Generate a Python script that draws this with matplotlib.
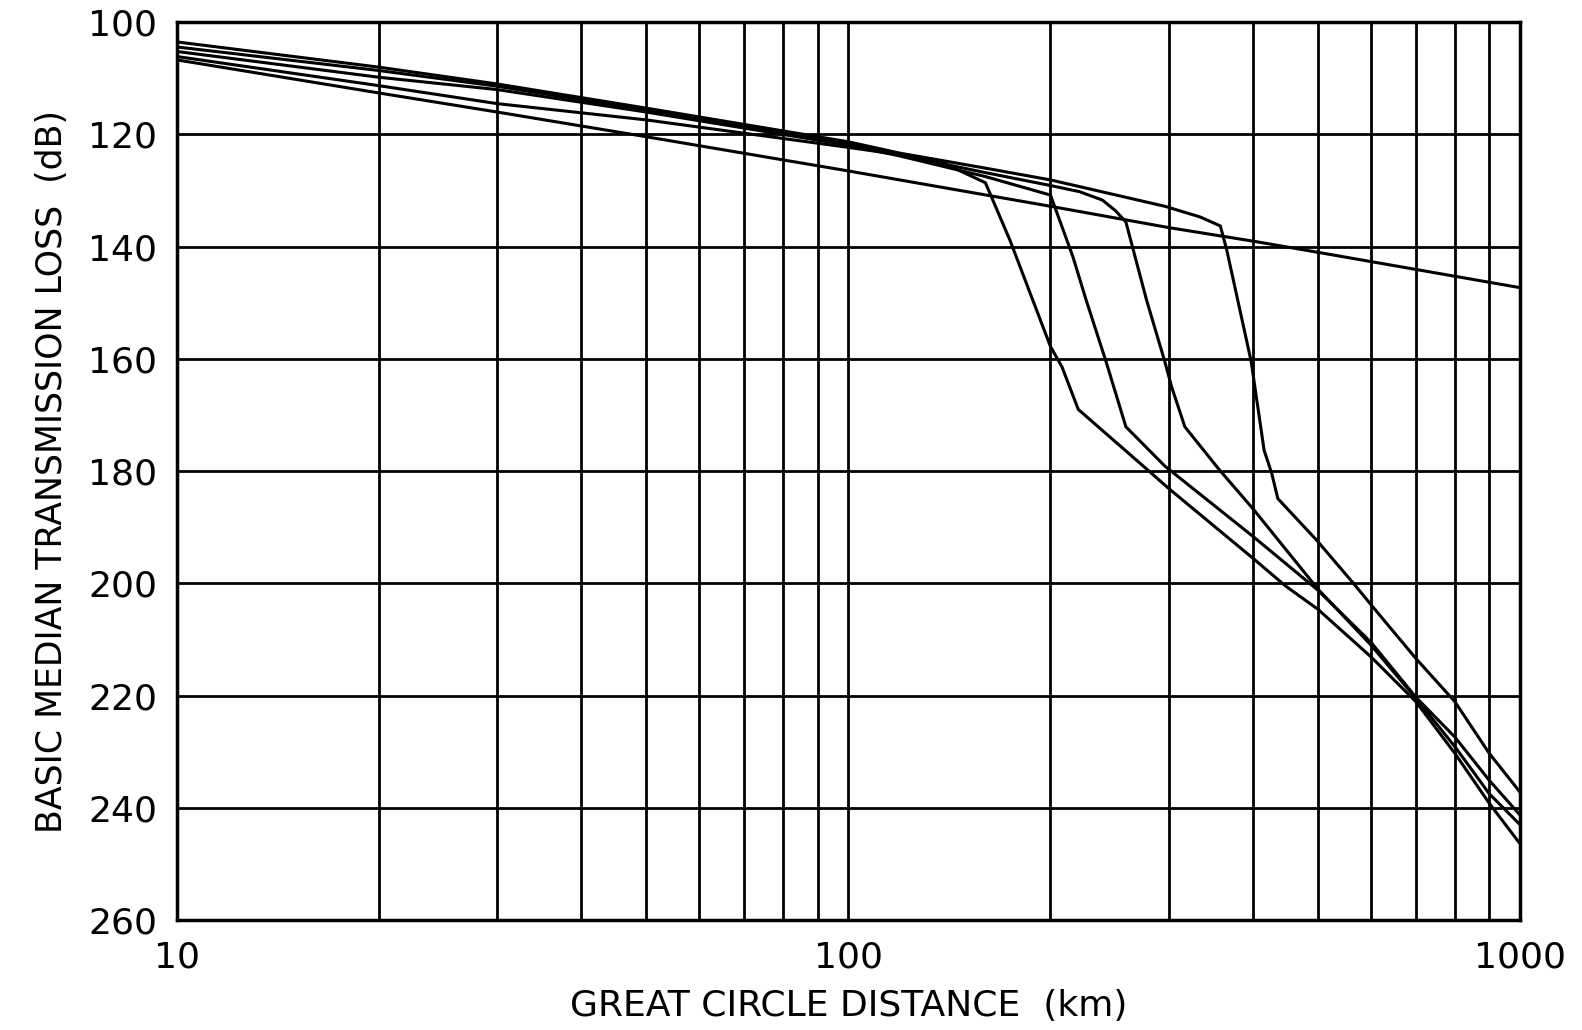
import matplotlib.pyplot as plt
from matplotlib.ticker import FixedLocator, NullFormatter

# distance (km) and basic median transmission loss (dB)
dist_s = [10, 20, 30, 50, 100, 200, 300, 400, 500, 1000]
loss_s = [106.7, 112.6, 116.0, 120.4, 126.5, 132.8, 136.6, 139.0, 141.0, 147.3]

dist_k1 = [10, 20, 30, 50, 100, 119, 138, 160, 174, 200, 208, 220,
           281, 300, 401, 448, 500, 600, 700, 800, 900, 1000]
loss_k1 = [106.1, 111.3, 114.5, 117.4, 122.3, 123.6, 125.0, 128.6, 138.8, 157.8, 161.4, 169.0,
           180.1, 183.1, 195.6, 200.5, 204.6, 213.1, 221.1, 230.3, 239.2, 246.4]

dist_k2 = [10, 20, 30, 50, 100, 119, 160, 200, 216, 226, 242, 259,
           296, 401, 500, 600, 700, 800, 900, 1000]
loss_k2 = [105.2, 109.8, 112.0, 116.0, 121.9, 123.8, 127.5, 130.8, 141.8, 149.5, 160.5, 172.1,
           179.1, 191.7, 201.2, 210.5, 220.3, 227.4, 235.1, 241.3]

dist_k3 = [10, 20, 30, 50, 100, 119, 160, 200, 221, 239, 250, 259, 278, 296, 303, 317,
           357, 401, 500, 600, 700, 800, 900, 1000]
loss_k3 = [104.4, 108.6, 111.4, 115.7, 121.6, 123.6, 126.8, 129.1, 130.2, 131.7, 133.6, 135.6, 149.5, 160.5, 165.0, 172.1,
           179.8, 186.8, 201.0, 211.0, 220.5, 229.1, 237.5, 243.0]

dist_k4 = [10, 20, 30, 50, 100, 119, 160, 200, 296, 334, 358, 366, 398, 416, 427, 436,
           498, 565, 600, 700, 800, 900, 1000]
loss_k4 = [103.5, 108.0, 111.0, 115.3, 121.3, 123.3, 126.0, 128.1, 132.8, 134.7, 136.3, 140.6, 160.5, 176.3, 180.4, 184.9,
           192.3, 200.0, 203.8, 213.4, 221.1, 230.3, 237.2]

curves = [(dist_s, loss_s), (dist_k1, loss_k1), (dist_k2, loss_k2),
          (dist_k3, loss_k3), (dist_k4, loss_k4)]

x_major = [10, 100, 1000]
x_minor = [m * d for d in (10, 100) for m in range(2, 10)]
y_ticks = list(range(100, 261, 20))

fig = plt.figure(figsize=(15.82, 10.30), dpi=100)
ax = fig.add_axes([0.1116, 0.1068, 0.8492, 0.8716])

for d, l in curves:
    ax.plot(d, l, color='black', linewidth=2.2)

ax.set_xscale('log')
ax.set_xlim(10, 1000)
ax.set_ylim(260, 100)
ax.xaxis.set_major_locator(FixedLocator(x_major))
ax.xaxis.set_minor_locator(FixedLocator(x_minor))
ax.xaxis.set_minor_formatter(NullFormatter())
ax.set_xticklabels([str(v) for v in x_major])
ax.set_yticks(y_ticks)
ax.set_yticklabels([str(v) for v in y_ticks])

ax.grid(True, which='both', color='black', linewidth=2.0)
ax.tick_params(which='both', length=0, labelsize=26)
ax.tick_params(axis='x', pad=15)
ax.tick_params(axis='y', pad=14)
for s in ax.spines.values():
    s.set_linewidth(2.5)

ax.set_xlabel('GREAT CIRCLE DISTANCE  (km)', fontsize=26, labelpad=10)
ax.set_ylabel('BASIC MEDIAN TRANSMISSION LOSS  (dB)', fontsize=25, labelpad=14)

plt.savefig('out.png', dpi=100)
